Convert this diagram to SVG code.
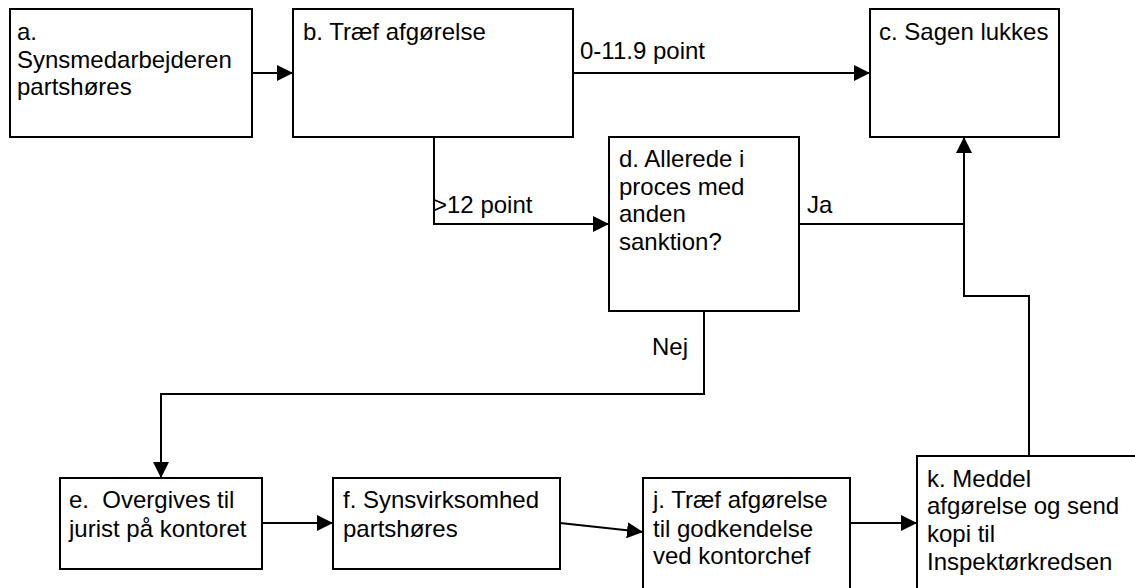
<svg xmlns="http://www.w3.org/2000/svg" width="1135" height="588" viewBox="0 0 1135 588">
<style>
  .box { fill: #ffffff; stroke: #000000; stroke-width: 2; }
  .lbl { font-family: "Liberation Sans", Arial, sans-serif; font-size: 24px; fill: #000000; }
  .con { fill: none; stroke: #000000; stroke-width: 2; }
  .arr { marker-end: url(#ah); }
</style>
<defs>
  <marker id="ah" markerUnits="userSpaceOnUse" markerWidth="17" markerHeight="16" refX="16" refY="8" orient="auto">
    <path d="M0,0 L16,8 L0,16 Z" fill="#000000"/>
  </marker>
</defs>
<rect x="0" y="0" width="1135" height="588" fill="#ffffff"/>

<g id="connectors">
  <line class="con arr" x1="252" y1="73" x2="293" y2="73"/>
  <line class="con arr" x1="573" y1="73" x2="870" y2="73"/>
  <polyline class="con arr" points="434,137 434,224 609,224"/>
  <line class="con" x1="799" y1="224" x2="964" y2="224"/>
  <polyline class="con arr" points="1029,456 1029,296 964,296 964,137"/>
  <polyline class="con arr" points="704,311 704,394 161,394 161,478"/>
  <line class="con arr" x1="262" y1="523" x2="333" y2="523"/>
  <line class="con arr" x1="560" y1="523" x2="643" y2="532"/>
  <line class="con arr" x1="850" y1="523" x2="917" y2="523"/>
  <text class="lbl" x="580" y="59">0-11.9 point</text>
  <text class="lbl" x="433" y="213">&gt;12 point</text>
  <text class="lbl" x="807" y="213">Ja</text>
  <text class="lbl" x="652" y="355">Nej</text>
</g>

<g id="node-a">
  <rect class="box" x="10" y="9" width="242" height="128"/>
  <text class="lbl" x="17" y="40">a.</text>
  <text class="lbl" x="17" y="68">Synsmedarbejderen</text>
  <text class="lbl" x="17" y="95">partshøres</text>
</g>

<g id="node-b">
  <rect class="box" x="293" y="9" width="280" height="128"/>
  <text class="lbl" x="303" y="40">b. Træf afgørelse</text>
</g>

<g id="node-c">
  <rect class="box" x="870" y="9" width="189" height="128"/>
  <text class="lbl" x="879" y="40">c. Sagen lukkes</text>
</g>

<g id="node-d">
  <rect class="box" x="609" y="137" width="190" height="174"/>
  <text class="lbl" x="619" y="167">d. Allerede i</text>
  <text class="lbl" x="619" y="195">proces med</text>
  <text class="lbl" x="619" y="222">anden</text>
  <text class="lbl" x="619" y="250">sanktion?</text>
</g>

<g id="node-e">
  <rect class="box" x="60" y="478" width="202" height="91"/>
  <text class="lbl" x="69" y="508" xml:space="preserve">e.  Overgives til</text>
  <text class="lbl" x="69" y="537">jurist på kontoret</text>
</g>

<g id="node-f">
  <rect class="box" x="333" y="478" width="227" height="91"/>
  <text class="lbl" x="343" y="508">f. Synsvirksomhed</text>
  <text class="lbl" x="343" y="537">partshøres</text>
</g>

<g id="node-j">
  <rect class="box" x="643" y="478" width="207" height="130"/>
  <text class="lbl" x="653" y="508">j. Træf afgørelse</text>
  <text class="lbl" x="653" y="537">til godkendelse</text>
  <text class="lbl" x="653" y="564">ved kontorchef</text>
</g>

<g id="node-k">
  <rect class="box" x="917" y="456" width="240" height="152"/>
  <text class="lbl" x="927" y="487">k. Meddel</text>
  <text class="lbl" x="927" y="514">afgørelse og send</text>
  <text class="lbl" x="927" y="542">kopi til</text>
  <text class="lbl" x="927" y="570">Inspektørkredsen</text>
</g>
</svg>
